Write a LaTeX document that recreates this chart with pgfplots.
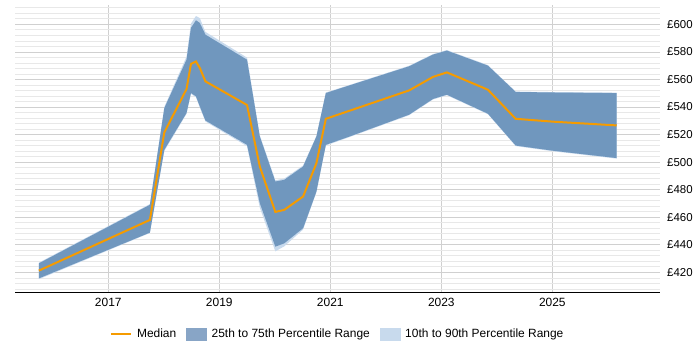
\documentclass[border=0pt]{standalone}
\usepackage{pgfplots}
\pgfplotsset{compat=1.18}
\usepgfplotslibrary{fillbetween}
\usepackage{fontspec}
\setmainfont{Liberation Sans}

\definecolor{medianorange}{RGB}{245,155,0}
\definecolor{iqrblue}{RGB}{112,151,190}
\definecolor{iqrlegend}{RGB}{136,165,198}
\definecolor{decileblue}{RGB}{200,218,237}
\definecolor{majorgrid}{RGB}{208,208,208}
\definecolor{minorgrid}{RGB}{232,232,232}

% year, p10, p25, median, p75, p90
\pgfplotstableread{
year     p10    p25    med    p75    p90
2015.75  415.0  415.6  421.2  426.5  427.0
2017.75  448.5  448.8  458.0  469.0  469.5
2018.01  508.0  508.9  521.5  539.2  540.0
2018.41  535.0  535.6  553.0  574.3  576.5
2018.49  549.5  550.1  571.2  597.4  600.5
2018.58  547.0  547.7  573.0  602.9  606.0
2018.65  539.5  540.4  568.3  601.0  604.5
2018.75  529.5  530.2  558.6  592.5  594.5
2019.50  511.5  512.5  541.4  574.3  575.8
2019.73  467.0  470.2  496.8  518.6  519.5
2020.01  435.2  438.6  463.8  485.9  486.8
2020.17  438.8  441.0  465.3  487.1  488.0
2020.51  451.0  452.0  475.0  496.8  497.5
2020.75  478.0  478.6  499.2  518.6  519.0
2020.92  512.0  512.5  531.4  550.1  550.5
2021.35  518.2  518.6  537.3  555.7  556.0
2022.42  534.0  534.4  552.0  569.5  569.9
2022.85  545.4  545.8  561.8  578.0  578.4
2023.10  548.5  548.9  565.1  580.9  581.3
2023.84  534.7  535.1  552.5  570.0  570.4
2024.34  511.6  512.0  531.4  550.9  551.2
2025.02  507.8  508.2  529.3  550.5  550.8
2026.16  502.5  502.9  526.6  550.1  550.4
}\salarydata

\begin{document}
\begin{tikzpicture}
\begin{axis}[
  at={(0bp,0bp)}, anchor=south west,
  scale only axis,
  width=645bp, height=287bp,
  xmin=2015.32, xmax=2026.94,
  ymin=405.7, ymax=614,
  axis x line*=bottom,
  axis y line=none,
  xtick={2017,2019,2021,2023,2025},
  /pgf/number format/assume math mode=true,
  x tick label style={/pgf/number format/1000 sep={}},
  xticklabel style={font=\fontsize{12}{14}\selectfont, yshift=-3bp},
  major tick length=0pt,
  xmajorgrids,
  major x grid style={majorgrid, line width=0.6pt},
  axis line style={black, line width=0.8pt},
  clip=false,
  legend columns=3,
  legend style={at={(0.5,-0.146)}, anchor=center, draw=none, fill=none,
    font=\fontsize{12}{14}\selectfont,
    /tikz/every even column/.append style={column sep=8bp},
    /tikz/every odd column/.append style={column sep=3bp}},
  legend cell align=left,
]
  % horizontal grid behind the bands: light every 4, darker every 20
  \begin{pgfonlayer}{axis grid}
  \pgfplotsinvokeforeach{408,412,...,612}{
    \draw[minorgrid, line width=0.6pt] (axis cs:2015.32,#1) -- (axis cs:2026.94,#1);
  }
  \pgfplotsinvokeforeach{420,440,...,600}{
    \draw[majorgrid, line width=0.6pt] (axis cs:2015.32,#1) -- (axis cs:2026.94,#1);
  }
  \end{pgfonlayer}
  % salary labels on the right
  \pgfplotsinvokeforeach{420,440,...,600}{
    \node[anchor=west, font=\fontsize{11.5}{13}\selectfont, inner sep=0pt]
      at (axis cs:2026.94,#1) [xshift=7bp] {\pounds#1};
  }

  \addplot[draw=none, name path=p10, forget plot] table[x=year,y=p10] {\salarydata};
  \addplot[draw=none, name path=p90, forget plot] table[x=year,y=p90] {\salarydata};
  \addplot[draw=none, name path=p25, forget plot] table[x=year,y=p25] {\salarydata};
  \addplot[draw=none, name path=p75, forget plot] table[x=year,y=p75] {\salarydata};
  \addplot[decileblue, forget plot] fill between[of=p10 and p90];
  \addplot[iqrblue, forget plot] fill between[of=p25 and p75];
  \addplot[medianorange, line width=2bp, forget plot] table[x=year,y=med] {\salarydata};

  \addlegendimage{legend image code/.code={
    \draw[medianorange, line width=2.5bp] (0bp,0bp) -- (20bp,0bp);}}
  \addlegendentry{Median}
  \addlegendimage{legend image code/.code={
    \fill[iqrlegend] (0bp,-6bp) rectangle (20bp,6bp);}}
  \addlegendentry{25th to 75th Percentile Range}
  \addlegendimage{legend image code/.code={
    \fill[decileblue] (0bp,-6bp) rectangle (20bp,6bp);}}
  \addlegendentry{10th to 90th Percentile Range}
\end{axis}
\path (-15bp,-58bp) rectangle (685bp,292bp);
\end{tikzpicture}
\end{document}
